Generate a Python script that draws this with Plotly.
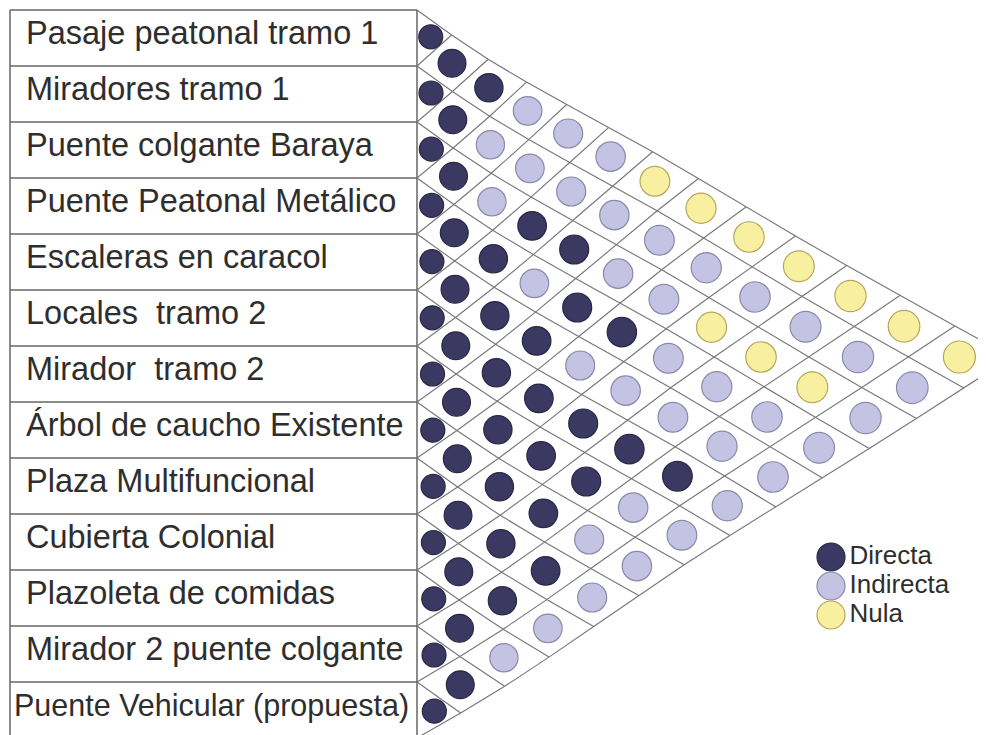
import numpy as np
import plotly.graph_objects as go

# ---------------- data ----------------
labels = [
    "Pasaje peatonal tramo 1",
    "Miradores tramo 1",
    "Puente colgante Baraya",
    "Puente Peatonal Metálico",
    "Escaleras en caracol",
    "Locales  tramo 2",
    "Mirador  tramo 2",
    "Árbol de caucho Existente",
    "Plaza Multifuncional",
    "Cubierta Colonial",
    "Plazoleta de comidas",
    "Mirador 2 puente colgante",
    "Puente Vehicular (propuesta)",
]

# relation of item i with items j = i, i+1, ..., 12  (D = Directa, I = Indirecta, N = Nula)
relations = [
    "DDDIIINNNNNNN",
    "DDIIIIIIIIII",
    "DDIDDIINNNI",
    "DDDIDDIIII",
    "DDDDIIIII",
    "DDDDDDDI",
    "DDDDDII",
    "DDDDII",
    "DDDDI",
    "DDDI",
    "DDI",
    "DD",
    "D",
]

legend_codes = ["D", "I", "N"]
legend_names = ["Directa", "Indirecta", "Nula"]

# ---------------- style ----------------
W, H = 986, 735
PAD = 8  # browser body margin -> shift axes so page pixels match
fill = {"D": "#3b3962", "I": "#c4c3e4", "N": "#f8f0a0"}
edge = {"D": "#2a2846", "I": "#8a89aa", "N": "#b4a75a"}
grid_col = "#767676"
box_col = "#666666"
FONT = "Liberation Sans, Arial, sans-serif"

# geometry of the (slightly distorted) triangular lattice: lattice (u, v) -> page pixels
X_LEFT, ROW_H, Y_MID = 417.0, 56.0, 374.0


def to_px(u, v):
    t = min(max((u - 1.0) / 6.0, 0.0), 1.0)
    yc = Y_MID - 17.0 * (3 * t * t - 2 * t ** 3)
    sy = ROW_H + 0.5 * u
    X = X_LEFT + 38.6 * u + 0.55 * u * u + 0.75 * u * (v - 6.5)
    Y = yc + sy * (v - 6.5)
    return X, Y


n = len(labels)
fig = go.Figure()

# ---------------- label box ----------------
bx, by = [], []
left_x = 10
for r in range(n + 1):
    X, Y = to_px(0, r)
    bx += [left_x, X, None]
    by += [Y, Y, None]
X0, Y0 = to_px(0, 0)
X1, Y1 = to_px(0, n)
bx += [left_x, left_x, None, X0, X1, None]
by += [Y0, Y1, None, Y0, Y1, None]
fig.add_trace(go.Scatter(x=bx, y=by, mode="lines",
                         line=dict(color=box_col, width=1.5),
                         hoverinfo="skip", showlegend=False))

# ---------------- lattice lines ----------------
gx, gy = [], []
for a in range(n):          # down-right lines from left-edge node a
    for u in range(0, n - a + 1):
        X, Y = to_px(u, a + u / 2)
        gx.append(X); gy.append(Y)
    gx.append(None); gy.append(None)
for b in range(1, n + 1):   # up-right lines from left-edge node b
    for u in range(0, b + 1):
        X, Y = to_px(u, b - u / 2)
        gx.append(X); gy.append(Y)
    gx.append(None); gy.append(None)
fig.add_trace(go.Scatter(x=gx, y=gy, mode="lines",
                         line=dict(color=grid_col, width=1.1),
                         hoverinfo="skip", showlegend=False))

# ---------------- relation circles ----------------
pts = {c: {"x": [], "y": [], "s": []} for c in legend_codes}
for i, row in enumerate(relations):
    for k, code in enumerate(row):
        j = i + k
        if k == 0:
            u, v, s = 0.4, i + 0.5, 24
        else:
            u, v, s = k, (i + j + 1) / 2, 27.5 + 4.5 * k / 12
        X, Y = to_px(u, v)
        pts[code]["x"].append(X)
        pts[code]["y"].append(Y)
        pts[code]["s"].append(s)

for code, name in zip(legend_codes, legend_names):
    fig.add_trace(go.Scatter(
        x=pts[code]["x"], y=pts[code]["y"], mode="markers", name=name,
        marker=dict(size=pts[code]["s"], color=fill[code], opacity=1,
                    line=dict(color=edge[code], width=1.2)),
        showlegend=False))

# ---------------- row labels ----------------
for r, lab in enumerate(labels):
    _, Yc = to_px(0, r + 0.5)
    long = len(lab) >= 27
    fig.add_annotation(x=12 if long else 24, y=Yc, text=lab,
                       xref="x", yref="y", xanchor="left", yanchor="middle",
                       showarrow=False, yshift=5,
                       font=dict(family=FONT, size=30.5 if long else 32.5,
                                 color="#2e2e2e"))

# ---------------- legend ----------------
leg_x = 831
leg_y0, leg_dy = 557, 29
fig.add_trace(go.Scatter(
    x=[leg_x] * 3, y=[leg_y0 + leg_dy * m for m in range(3)],
    mode="markers+text", text=legend_names, textposition="middle right",
    textfont=dict(family=FONT, size=26, color="#2e2e2e"),
    marker=dict(size=28, color=[fill[c] for c in legend_codes], opacity=1,
                line=dict(color=[edge[c] for c in legend_codes], width=1.2)),
    hoverinfo="skip", showlegend=False, cliponaxis=False))

fig.update_layout(
    width=W - PAD, height=H - PAD, autosize=False,
    margin=dict(l=0, r=0, t=0, b=0),
    paper_bgcolor="white", plot_bgcolor="white",
    xaxis=dict(range=[PAD, W], visible=False, fixedrange=True),
    yaxis=dict(range=[H, PAD], visible=False, fixedrange=True),
    showlegend=False,
)

fig.write_html("out.html")
